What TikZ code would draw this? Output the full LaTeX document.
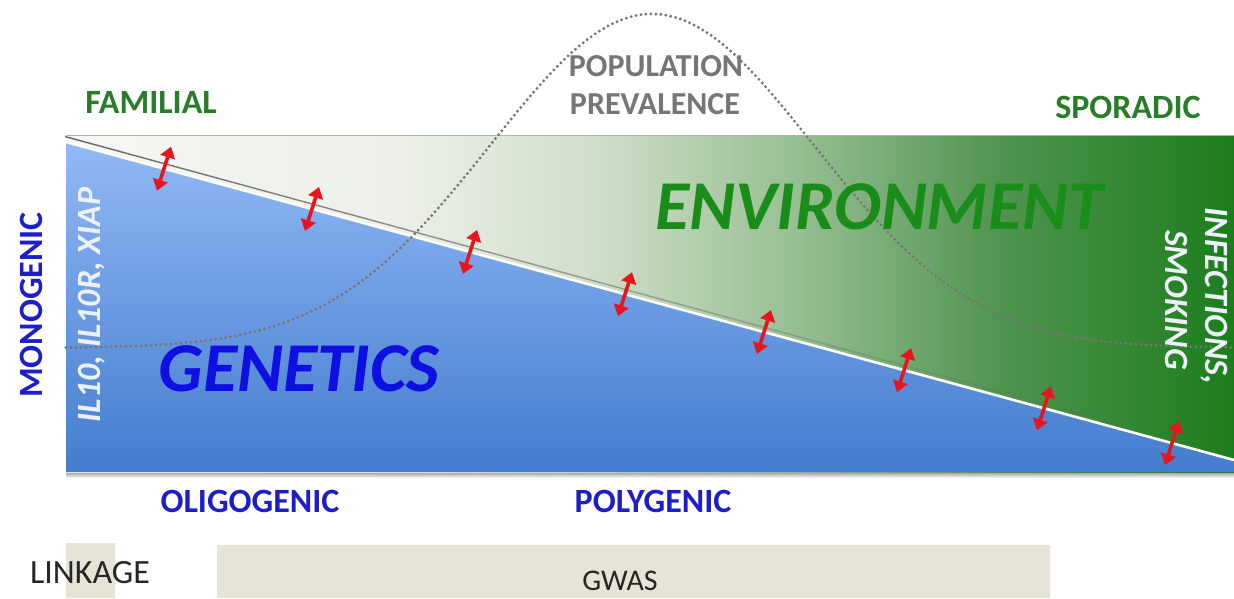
\documentclass[tikz,border=0pt]{standalone}
\usepackage{fontspec}
\setmainfont{Carlito}
\usetikzlibrary{arrows.meta,calc,fadings}

% palette
\definecolor{famgreen}{RGB}{40,125,40}
\definecolor{popgray}{RGB}{118,118,118}
\definecolor{lblblue}{RGB}{30,30,200}
\definecolor{genblue}{RGB}{15,15,225}
\definecolor{envgreen}{RGB}{25,140,25}
\definecolor{whitish}{RGB}{236,241,248}
\definecolor{arrowred}{RGB}{232,20,30}
\definecolor{boxbeige}{RGB}{230,228,214}
\definecolor{blueTop}{RGB}{146,185,246}
\definecolor{blueBot}{RGB}{68,124,206}
\definecolor{envA}{RGB}{245,247,243}
\definecolor{envB}{RGB}{236,240,232}
\definecolor{envC}{RGB}{206,221,200}
\definecolor{envD}{RGB}{150,190,145}
\definecolor{envE}{RGB}{80,148,80}
\definecolor{envF}{RGB}{28,125,28}

% left-to-right fade from pale to deep green
\pgfdeclarehorizontalshading{envshade}{100bp}{color(0bp)=(envA); color(25bp)=(envA);
  color(39.3bp)=(envB); color(47.9bp)=(envC); color(56.4bp)=(envD);
  color(65bp)=(envE); color(75bp)=(envF); color(100bp)=(envF)}

\tikzset{
  lbl/.style={font=\bfseries\fontsize{34}{36}\selectfont, inner sep=0pt, anchor=base},
  itlbl/.style={lbl, font=\bfseries\itshape\fontsize{34}{36}\selectfont},
  biglbl/.style={font=\bfseries\itshape\fontsize{70}{72}\selectfont, inner sep=0pt, anchor=base},
  plainlbl/.style={font=\fontsize{34}{36}\selectfont, inner sep=0pt, anchor=base, text=black!85},
  methodbox/.style={fill=boxbeige, draw=none, inner sep=0pt, anchor=north west},
  dblarrow/.style={draw=arrowred, line width=3.6pt,
    {Triangle[length=11pt,width=15pt]}-{Triangle[length=11pt,width=15pt]}},
  prevcurve/.style={draw=popgray, line width=3.2pt, line cap=round,
    dash pattern=on 0pt off 5pt},
}

\begin{document}
\begin{tikzpicture}[x=1pt,y=-1pt]
\useasboundingbox (0,0) rectangle (1234,598);
\fill[white] (0,0) rectangle (1234,598);

% study designs along the bottom
\node[methodbox, minimum width=49pt, minimum height=55pt] (linkbox) at (66,543) {};
\node[methodbox, minimum width=833pt, minimum height=53pt] (gwasbox) at (217,545) {};
\node[plainlbl] (linkage) at (90,583) {LINKAGE};
\node[plainlbl, font=\fontsize{30}{32}\selectfont] (gwas) at (620,590) {GWAS};

% main panel: environment background and genetics wedge
\shade[top color=black!40, bottom color=white] (66,472) rectangle (1234,478);
\shade[shading=envshade] (66,135) rectangle (1234,472);
\coordinate (hypL) at (66,142);
\coordinate (hypR) at (1234,460);
\shade[top color=blueTop, bottom color=blueBot] (hypL) -- (hypR) -- (1234,472) -- (66,472) -- cycle;
\draw[black!30, line width=1.5pt] (66,135.5) -- (1234,135.5);
\coordinate (edgeL) at (66,136.5);
\coordinate (edgeR) at (1234,455);
\draw[black!60, line width=1.4pt, path fading=east] (edgeL) -- (edgeR);
\draw[white, line width=2.6pt] (hypL) -- (hypR);

% prevalence curve
\draw[prevcurve] plot[domain=66:1234, samples=160, smooth]
  (\x, {348-334*exp(-((\x-652)/162)*((\x-652)/162)/2)});

% interaction arrows across the boundary
\foreach \t [count=\i] in {0.0839,0.2106,0.3459,0.4786,0.5976,0.7175,0.8373,0.9469} {
  \coordinate (mid\i) at ($(hypL)!\t!(hypR)$);
  \coordinate (lo\i) at ($(mid\i)+(-7,22)$);
  \coordinate (hi\i) at ($(mid\i)+(7,-22)$);
  \draw[dblarrow] (lo\i) -- (hi\i);
}

% labels
\node[lbl, text=famgreen] (familial) at (151,113) {FAMILIAL};
\node[lbl, text=famgreen] (sporadic) at (1128,118) {SPORADIC};
\node[lbl, text=popgray, font=\bfseries\fontsize{32}{34}\selectfont] (popline) at (656,76) {POPULATION};
\node[lbl, text=popgray, font=\bfseries\fontsize{32}{34}\selectfont] (prevline) at (655,114) {PREVALENCE};
\node[lbl, text=lblblue, rotate=90] (mono) at (42,305) {MONOGENIC};
\node[itlbl, text=whitish, rotate=90] (genes) at (100,305) {IL10, IL10R, XIAP};
\node[itlbl, text=whitish, rotate=-90] (infect) at (1205,296) {INFECTIONS,};
\node[itlbl, text=whitish, rotate=-90] (smoke) at (1165,300) {SMOKING};
\node[biglbl, text=genblue] (genetics) at (299,391) {GENETICS};
\node[biglbl, text=envgreen] (environment) at (879,229) {ENVIRONMENT};
\node[lbl, text=lblblue] (oligo) at (250,512) {OLIGOGENIC};
\node[lbl, text=lblblue] (poly) at (653,512) {POLYGENIC};
\end{tikzpicture}
\end{document}
